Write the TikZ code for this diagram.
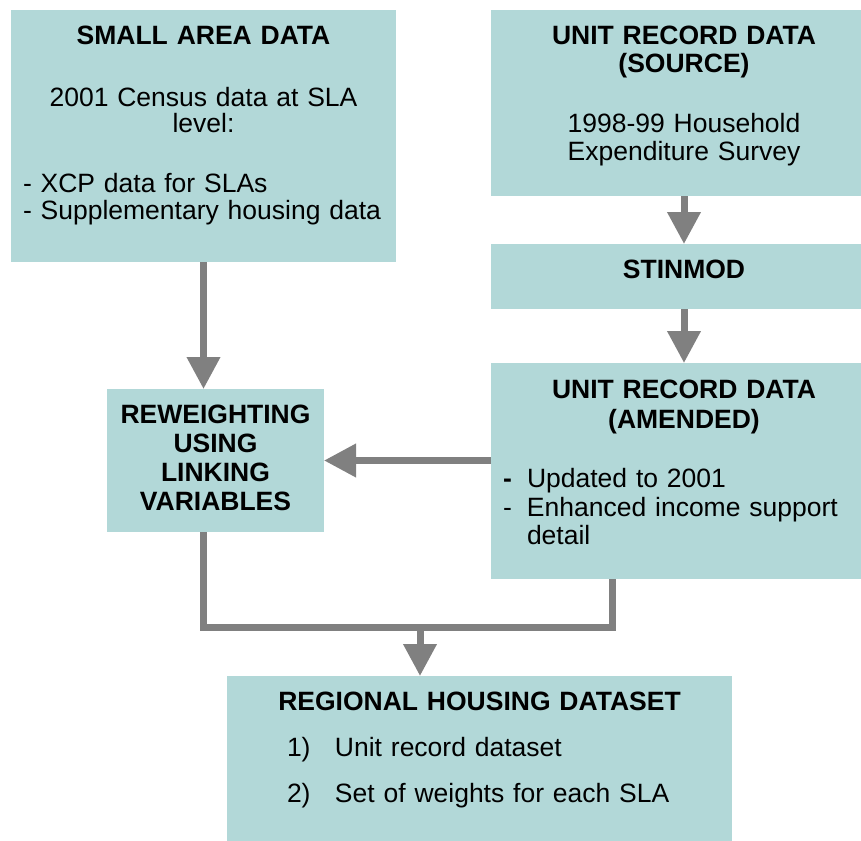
\documentclass[tikz,border=0pt]{standalone}
\usepackage{fontspec}
\setmainfont{Liberation Sans}
\usetikzlibrary{arrows.meta}
\definecolor{boxfill}{RGB}{178,216,216}
\definecolor{flowgray}{RGB}{128,128,128}
\tikzset{
	databox/.style={fill=boxfill, anchor=north west, outer sep=0pt, inner xsep=6pt, inner ysep=0pt, font=\fontsize{13.25pt}{14pt}\selectfont},
	flow/.style={draw=flowgray, line width=3.5pt, -{Triangle[width=16pt, length=16pt]}},
	link/.style={draw=flowgray, line width=3.5pt},
}
\begin{document}
\begin{tikzpicture}[x=0.5pt, y=-0.5pt]
		\useasboundingbox (0, 0) rectangle (861, 840);
		\clip (0, 0) rectangle (861, 840);
		% inputs
		\node[databox, text width=180.5pt, text height=17.5pt, text depth=108.5pt] (small) at (11, 10) {{\centering\textbf{SMALL AREA DATA}\\[17pt]2001 Census data at SLA\\[-1pt]level:\par}\vspace{16pt}- XCP data for SLAs\\[-0.5pt]- Supplementary housing data};
		\node[databox, align=center, text width=181pt, text height=17.5pt, text depth=75.5pt] (source) at (491, 10) {\textbf{UNIT RECORD DATA}\\\textbf{(SOURCE)}\\[16pt]1998-99 Household\\Expenditure Survey};
		\node[databox, align=center, text width=181pt, text height=17pt, text depth=15.5pt] (stinmod) at (491, 244) {\textbf{STINMOD}};
		\node[databox, text width=181pt, text height=17.5pt, text depth=90.5pt] (amended) at (491, 363) {{\centering\textbf{UNIT RECORD DATA}\\[1pt]\textbf{(AMENDED)}\par}\vspace{15.5pt}\makebox[12pt][l]{\textbf{-}}Updated to 2001\\[0.5pt]\makebox[12pt][l]{-}Enhanced income support\\\hspace*{12pt}detail};
		\node[databox, align=center, inner xsep=4pt, text width=100.5pt, text height=17pt, text depth=54.5pt] (reweight) at (107, 389) {\textbf{REWEIGHTING}\\[0.65pt]\textbf{USING}\\[0.65pt]\textbf{LINKING}\\[0.65pt]\textbf{VARIABLES}};
		% output
		\node[databox, text width=240.5pt, text height=17pt, text depth=70pt] (regional) at (227, 676) {{\centering\textbf{REGIONAL HOUSING DATASET}\par}\vspace{9pt}\hspace*{24pt}\makebox[24pt][l]{1)}Unit record dataset\\[9pt]\hspace*{24pt}\makebox[24pt][l]{2)}Set of weights for each SLA};
		\coordinate (merge) at (420, 627);
		\draw[flow] (source) -- (stinmod);
		\draw[flow] (stinmod) -- (amended);
		\draw[flow] (small.south) -- (small.south |- reweight.north);
		\draw[flow] (amended.west |- reweight.east) -- (reweight.east);
		\draw[link] (small.south |- reweight.south) |- (merge) -| ([xshift=-36pt]amended.south);
		\draw[flow] (merge) -- (merge |- regional.north);
	\end{tikzpicture}
\end{document}
